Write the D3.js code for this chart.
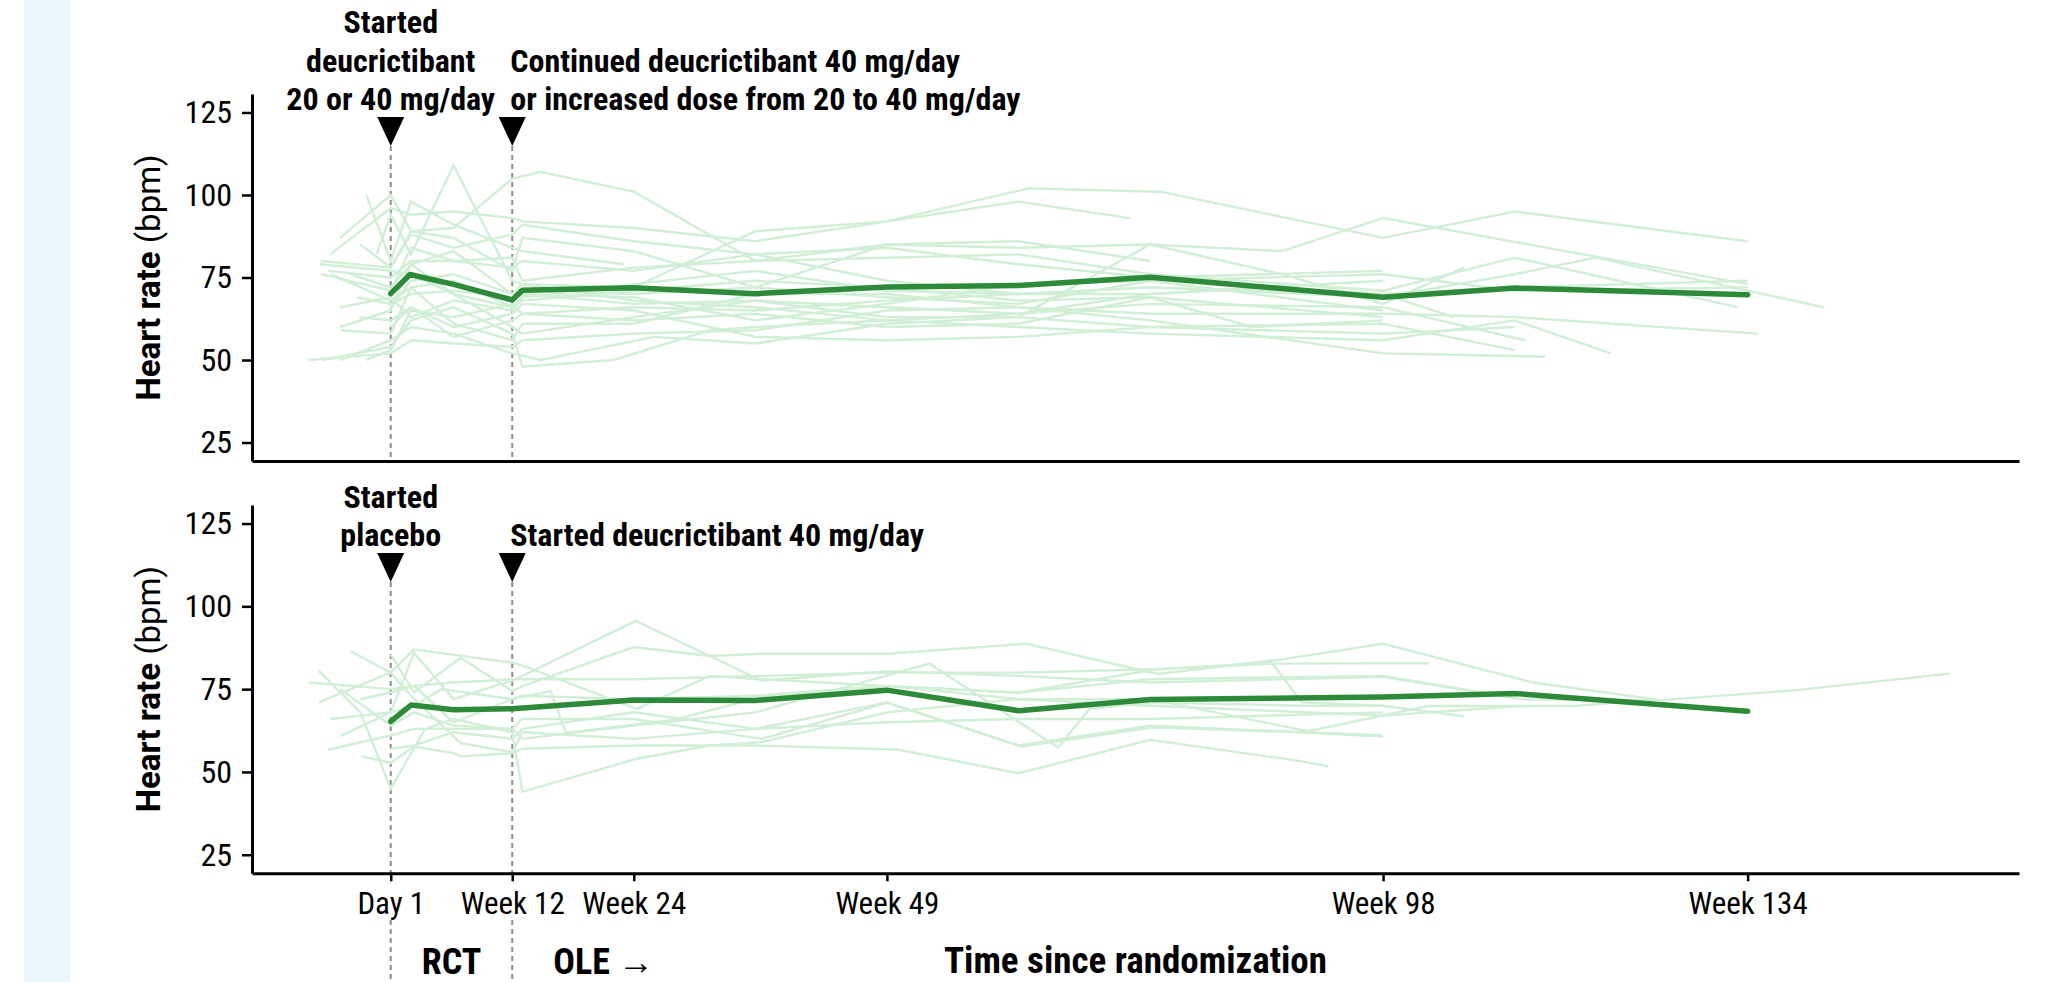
<!DOCTYPE html>
<html>
<head>
<meta charset="utf-8">
<script src="https://cdn.jsdelivr.net/npm/d3@7"></script>
<style>
  body { margin: 0; background: #fff; }
  svg { display: block; }
  .cond { font-family: "Roboto Condensed", "Roboto", sans-serif; font-stretch: 75%; }
  .note { font-family: "Roboto Condensed", "Roboto", sans-serif; font-stretch: 80%; }
</style>
</head>
<body>
<svg id="chart" width="2048" height="982"></svg>
<script>
// ---- data (weeks since randomization, heart rate bpm) ----
const weekTicks = [0, 12, 24, 49, 98, 134];
const weekTickLabels = ["Day 1", "Week 12", "Week 24", "Week 49", "Week 98", "Week 134"];
const hrTicks = [25, 50, 75, 100, 125];
const markerWeeks = [0, 12];

const topMean = [[0,70.1],[1.9,75.9],[6.2,72.9],[12,68.2],[13,71.1],[24,71.9],[36,70.1],[49,72.1],[62,72.6],[75,75.1],[98,69],[111,71.8],[134,69.8]];

const topPatients = [
  [[-5,87],[0,100],[2,89],[6.2,90],[12,105],[14.8,107],[24,101],[36,80],[49,85],[62,86],[75,80]],
  [[-6,82],[0,96],[2,94],[6.2,95],[12,93],[13,92],[24,90],[36,86],[49,92],[63,102],[76,101],[98,87],[111,95],[134,86]],
  [[-2.4,100],[0,80],[2,98],[6.2,91],[12,84],[13,83],[23,79]],
  [[-1.4,82],[0,94],[2,82],[6.2,109],[12,74],[13,73],[24,72],[36,89],[49,92],[62,98],[73,93]],
  [[-6.9,80],[0,78],[2,89],[6.2,87],[12,77],[13,87],[24,83],[36,72],[49,85],[62,84],[75,85],[88,83],[98,93],[134,73]],
  [[-6.9,76],[0,71],[2,84],[6.2,80],[12,78],[13,80],[24,77],[36,82],[49,84],[62,79],[75,75],[98,77]],
  [[-6.2,77],[0,75],[2,80],[6.2,80],[12,81],[13,74],[24,78],[36,80],[49,81],[62,82],[75,76],[98,71],[111,81],[133,66]],
  [[-5.9,76],[0,68],[2,72],[6.2,74],[12,66],[13,69],[24,73],[36,77],[49,71],[62,70],[75,72],[98,69],[111,76],[119,81],[141.5,66]],
  [[-3.3,69],[0,67],[2,70],[6.2,71],[12,69],[13,70],[24,67],[36,68],[49,66],[62,64],[75,67],[98,66],[112,56]],
  [[-5,60],[0,65],[2,79],[6.2,70],[12,60],[13,58],[24,63],[36,68],[49,63],[62,63],[75,85],[88,76],[98,67],[106,78]],
  [[-4.9,59],[0,58],[2,72],[6.2,61],[12,56],[13,61],[24,61],[36,70],[49,70],[62,66],[75,64],[98,64],[111,63],[135,58]],
  [[-3.1,63],[0,62],[2,66],[6.2,57],[12,62],[13,64],[24,62],[36,64],[49,60],[62,61],[75,69],[85,60],[98,62]],
  [[-8.1,50],[0,52],[2,56],[6.2,55],[12,54],[13,56],[24,58],[36,59],[49,65],[62,66],[75,62],[98,52],[114,51]],
  [[-6.7,50],[0,54],[2,62],[6.2,66],[12,58],[13,48],[22,50],[31.5,59],[36,60],[49,62],[62,60],[75,58],[98,56],[111,62],[120.5,52]],
  [[-5,50],[0,56],[2,60],[6.2,58],[12,52],[14.8,50],[26,57],[36,55],[49,61],[62,63],[75,60],[98,58],[111,60]],
  [[-2.4,50],[0,53],[2,65],[6.2,63],[12,67],[13,64],[24,66],[36,65],[49,68],[62,70],[75,72],[98,70],[111,72],[134,74]],
  [[0,66],[2,74],[6.2,76],[12,70],[13,71],[24,70],[36,72],[49,69],[62,67],[75,74],[98,76],[111,71],[134,72]],
  [[-4,76],[0,72],[2,79],[6.2,83],[12,70],[13,73],[24,68],[36,66],[49,62],[62,64],[75,70],[87,72],[98,70],[105,63]],
  [[-7,79],[0,77],[2,76],[6.2,70],[12,66],[13,68],[24,71],[36,74],[49,72],[62,68],[75,69],[98,63]],
  [[-3,85],[0,78],[2,88],[6.2,84],[12,88],[13,91],[24,86],[36,82],[49,74],[62,70],[75,70],[98,74]],
  [[0,60],[2,66],[6.2,60],[12,64],[13,67],[24,65],[36,57],[49,56],[62,57],[75,60],[98,61],[111,53]],
  [[-5,66],[0,69],[2,63],[6.2,68],[12,65],[13,70],[24,69],[36,62],[49,67],[62,73],[75,74],[98,65]]
];

const bottomMean = [[0,65.3],[2,70.2],[6.2,68.8],[12,69.1],[24,71.7],[36,71.6],[49,74.7],[62,68.5],[75,71.9],[98,72.6],[111,73.7],[134,68.3]];

const bottomPatients = [
  [[-8.1,77],[0,75],[2.3,76],[6.2,77],[12,78],[13.8,78],[24,78],[36.6,79],[49,80],[62,80],[75.6,81],[87,83],[90,71],[98,70]],
  [[-7.1,80.5],[-3,68],[0,45],[3.4,63],[6.2,66],[12,62],[13,44],[24.3,54],[31.5,58],[36.6,59],[49,68],[62,72],[75,70],[98,67],[112,70]],
  [[-4,86.5],[0,80],[2,73],[6.9,58.7],[12,56],[13,62],[24,60],[36,63],[49,71],[62,58],[75,64],[90,62],[98,61]],
  [[-7.1,71],[0,80],[2.3,87],[12,83],[13.1,82],[24.3,69],[31.5,79],[36.6,78],[49,76],[62,74],[75,78],[98,79],[111.7,72]],
  [[-5,60.8],[0,68],[2.3,86],[6.2,72],[12,77.6],[13,79],[24.2,95.6],[31.5,85],[36.6,85.7],[49,85.7],[62.8,88.7],[75.7,79.6],[88,84],[98,88.7],[112.8,77],[125.4,71.7],[138.8,74.7],[154,79.7]],
  [[-6.2,56.7],[0,61],[2.3,63],[12,63],[13,66],[24,66],[36.6,60],[49,70.9],[62.3,57.7],[75.3,63.5],[90,62],[98,60.7]],
  [[-2.9,54.7],[0,52.7],[2.3,57.7],[6.2,55.7],[7,54.7],[12,55.7],[13,57],[24,58],[36,58],[50.2,56.7],[62,49.6],[75,59.7],[90,53.2],[92.6,51.7]],
  [[0,85.5],[2.3,74],[6.9,84.5],[12,74.4],[13.1,76],[24,87.7],[31.5,85],[36.6,77.6],[49,80.4],[62,79],[75,77],[98,78.7],[111.7,71.9],[125,71.7]],
  [[-6,66],[0,68],[2.3,70],[5,75],[12,72],[15.8,74.4],[17.3,61.8],[28,65.8],[36.6,72.6],[49,75.9],[62,73.9],[75.6,81],[87,82.7],[98.3,82.8],[102.5,82.8]],
  [[-5,75],[0,64],[2.3,68],[6.2,64],[12,63],[13,60],[24,64],[36,68],[53.2,82.7],[65.9,57.4],[69,69],[75,71],[90,70],[98,70],[106,66.8]],
  [[-3,72],[0,74],[2.3,76],[6.2,65],[12,72],[13,73],[24,72],[36,73],[49,76],[62,72],[75,72],[90.6,62.3],[102.4,69.9],[117,69.9],[125,72]],
  [[0,57],[2.3,58],[6.2,62],[12,60],[13,63],[24,68],[36,63],[49,65],[62,66],[75,66],[98,68]]
];

const topNotes = [
  { week: 0, anchor: "middle", lines: ["Started", "deucrictibant", "20 or 40 mg/day"] },
  { week: 12, anchor: "start", lines: ["Continued deucrictibant 40 mg/day", "or increased dose from 20 to 40 mg/day"] }
];
const bottomNotes = [
  { week: 0, anchor: "middle", lines: ["Started", "placebo"] },
  { week: 12, anchor: "start", lines: ["Started deucrictibant 40 mg/day"] }
];

// ---- layout ----
const svg = d3.select("#chart");
const left = 252, right = 2019;
const lightLine = "#d1eed6", meanColor = "#2d8a39";

svg.append("rect").attr("x", 24).attr("y", 0).attr("width", 46).attr("height", 982).attr("fill", "#e9f6fd");

const x = d3.scaleLinear().domain([-13.7, 160.8]).range([left, right]);

function panel(top, bottom, triTop, patients, mean, notes, showTicks) {
  const y = d3.scaleLinear().domain([19.4, 130.6]).range([bottom, top]);
  const g = svg.append("g");
  const line = d3.line().x(d => x(d[0])).y(d => y(d[1]));
  const triTip = triTop + 29;

  // dashed markers
  g.selectAll(".mark").data(markerWeeks).enter().append("line")
    .attr("x1", d => x(d)).attr("x2", d => x(d))
    .attr("y1", triTip).attr("y2", bottom)
    .attr("stroke", "#8c8c8c").attr("stroke-width", 2).attr("stroke-dasharray", "5,4");

  g.selectAll(".pt").data(patients).enter().append("path")
    .attr("d", line).attr("fill", "none")
    .attr("stroke", lightLine).attr("stroke-width", 2.4);

  g.append("path").datum(mean).attr("d", line).attr("fill", "none")
    .attr("stroke", meanColor).attr("stroke-width", 5.5)
    .attr("stroke-linecap", "round").attr("stroke-linejoin", "round");

  // triangles
  g.selectAll(".tri").data(markerWeeks).enter().append("path")
    .attr("d", d => `M${x(d) - 13.5},${triTop}L${x(d) + 13.5},${triTop}L${x(d)},${triTip}Z`)
    .attr("fill", "#000");

  // notes
  notes.forEach(n => {
    const t = g.append("text").attr("class", "note")
      .attr("text-anchor", n.anchor)
      .attr("font-size", 32).attr("font-weight", 700).attr("fill", "#000");
    const n0 = n.lines.length;
    n.lines.forEach((s, i) => {
      t.append("tspan").attr("x", x(n.week) - (n.anchor === "start" ? 2 : 0))
        .attr("y", triTop - 7 - (n0 - 1 - i) * 38.5).text(s);
    });
  });

  const yAxis = g.append("g").attr("transform", `translate(${left},0)`)
    .call(d3.axisLeft(y).tickValues(hrTicks).tickSize(10).tickPadding(10).tickSizeOuter(0));
  yAxis.select(".domain").attr("stroke-width", 3);
  yAxis.selectAll(".tick line").attr("stroke-width", 2.5);
  yAxis.selectAll("text").attr("class", "cond").attr("font-size", 32).attr("fill", "#000");

  const xAxis = g.append("g").attr("transform", `translate(0,${bottom})`)
    .call(d3.axisBottom(x).tickValues(showTicks ? weekTicks : []).tickFormat((d, i) => weekTickLabels[i])
      .tickSize(8).tickPadding(11).tickSizeOuter(0));
  xAxis.select(".domain").attr("stroke-width", 3);
  xAxis.selectAll(".tick line").attr("stroke-width", 2.5);
  xAxis.selectAll("text").attr("class", "cond").attr("font-size", 31).attr("fill", "#000");

  const title = g.append("text")
    .attr("transform", `translate(160,${(top + bottom) / 2}) rotate(-90)`)
    .attr("text-anchor", "middle").attr("font-family", "Roboto, sans-serif").attr("font-size", 33).attr("fill", "#000");
  title.append("tspan").attr("font-weight", 700).text("Heart rate");
  title.append("tspan").text(" (bpm)");
}

panel(94, 461, 117, topPatients, topMean, topNotes, false);
panel(505, 873.3, 553, bottomPatients, bottomMean, bottomNotes, true);

// below the bottom axis
svg.selectAll(".lowmark").data(markerWeeks).enter().append("line")
  .attr("x1", d => x(d)).attr("x2", d => x(d)).attr("y1", 920).attr("y2", 982)
  .attr("stroke", "#8c8c8c").attr("stroke-width", 2).attr("stroke-dasharray", "5,4");

svg.append("text").attr("class", "cond").attr("x", (x(0) + x(12)) / 2).attr("y", 974)
  .attr("text-anchor", "middle").attr("font-size", 36).attr("font-weight", 700).text("RCT");
svg.append("text").attr("class", "cond").attr("x", x(12) + 41).attr("y", 974)
  .attr("font-size", 36).attr("font-weight", 700).text("OLE \u2192");
svg.append("text").attr("class", "cond").attr("x", (left + right) / 2).attr("y", 973)
  .attr("text-anchor", "middle").attr("font-size", 37).attr("font-weight", 700).text("Time since randomization");
</script>
</body>
</html>
